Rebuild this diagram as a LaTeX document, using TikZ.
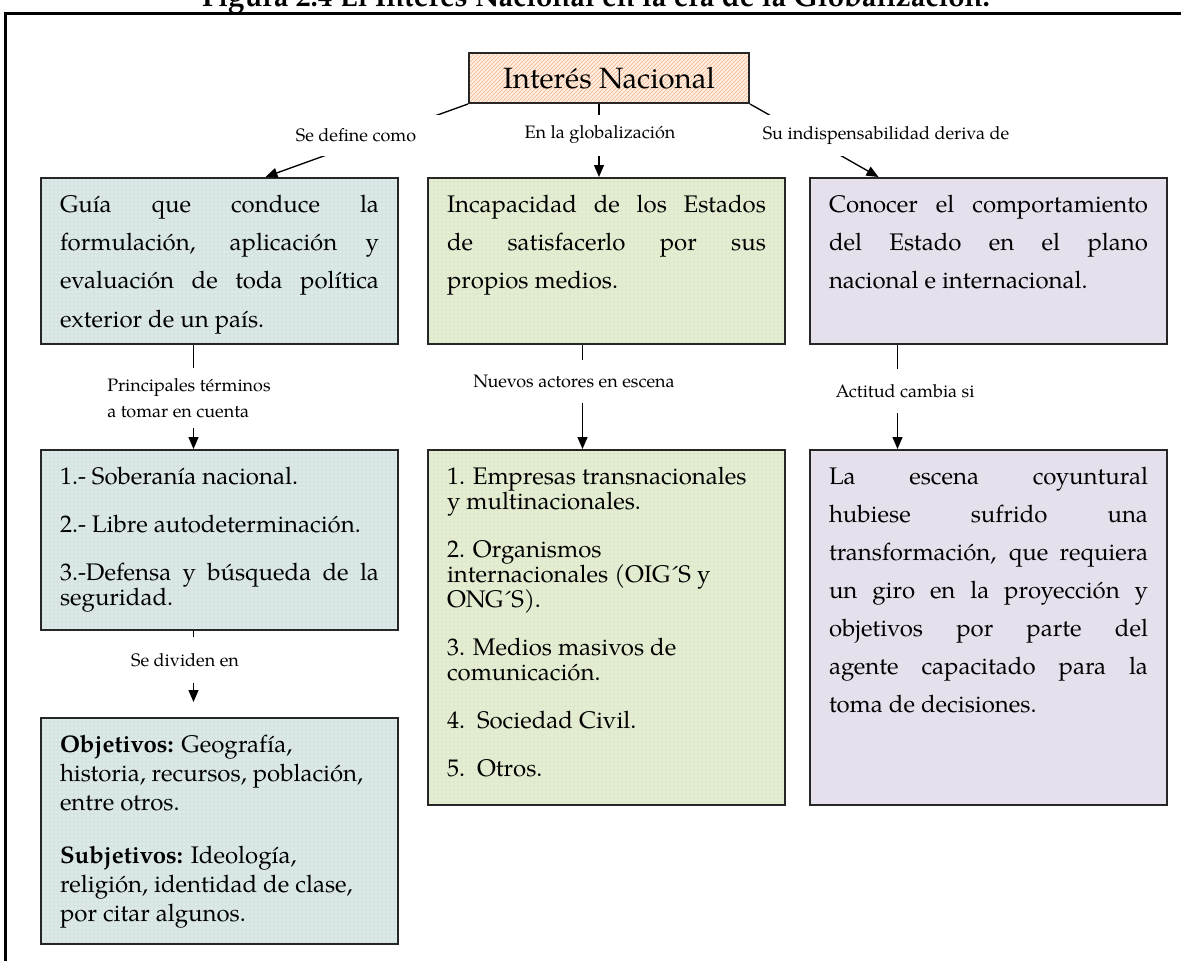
\documentclass[tikz,border=0pt]{standalone}
\usepackage{fontspec}
\setmainfont{TeX Gyre Pagella}
\usepackage{tikz}
\usetikzlibrary{arrows.meta}
\usetikzlibrary{patterns}
\newlength{\pxu}
\setlength{\pxu}{0.75pt}
\definecolor{azulgris}{RGB}{214,228,228}
\definecolor{verdeclaro}{RGB}{224,234,205}
\definecolor{lila}{RGB}{229,224,236}
\definecolor{durazno}{RGB}{254,238,226}
\definecolor{rayas}{RGB}{246,178,136}
\newcommand{\contenido}[3]{\parbox[c][#1\pxu][t]{319\pxu}{\setlength{\parskip}{#2\pxu}#3}}
\tikzset{
	caja/.style={draw=black!85, line width=2\pxu, anchor=north west, inner xsep=19\pxu, inner ysep=17\pxu},
	interl/.style={font=\fontsize{18}{#1}\selectfont},
	flecha/.style={-{Triangle[length=9pt,width=7.5pt]}, line width=1pt},
	etiqueta/.style={fill=white, inner xsep=2\pxu, font=\fontsize{13.5}{20}\selectfont}
}
\begin{document}
\begin{tikzpicture}[x=0.75pt, y=-0.75pt]
	\useasboundingbox (0,0) rectangle (1181,960);
	\node[anchor=base, font=\bfseries\fontsize{22}{26}\selectfont] (titulo) at (596,7) {Figura 2.4 El Interés Nacional en la era de la Globalización.};
	\draw[line width=3\pxu] (5,1000) -- (5,13) -- (1200,13);
	% cabecera
	\node[draw=black!85, line width=2\pxu, anchor=north west, minimum width=280\pxu, minimum height=50\pxu, preaction={fill=durazno}, pattern=north east lines, pattern color=rayas, font=\fontsize{22}{26}\selectfont] (ni) at (468,52) {Interés Nacional};
	% primera fila
	\node[caja, interl=28.7, preaction={fill=azulgris}, pattern=dots, pattern color=white] (guia) at (40,177) {\contenido{132}{0}{Guía que conduce la\linebreak formulación, aplicación y\linebreak evaluación de toda política\linebreak exterior de un país.}};
	\node[caja, interl=28.7, preaction={fill=verdeclaro}, pattern=dots, pattern color=white] (incap) at (427,177) {\contenido{132}{0}{Incapacidad de los Estados\linebreak de satisfacerlo por sus\linebreak propios medios.}};
	\node[caja, interl=28.7, fill=lila] (conocer) at (809,177) {\contenido{132}{0}{Conocer el comportamiento\linebreak del Estado en el plano\linebreak nacional e internacional.}};
	% segunda fila
	\node[caja, interl=18.4, preaction={fill=azulgris}, pattern=dots, pattern color=white] (sober) at (40,449) {\contenido{146}{23.5}{1.- Soberanía nacional.\par 2.- Libre autodeterminación.\par 3.-Defensa y búsqueda de la\linebreak seguridad.}};
	\node[caja, interl=18.75, preaction={fill=verdeclaro}, pattern=dots, pattern color=white] (actores) at (427,449) {\contenido{321}{23}{1. Empresas transnacionales\newline y multinacionales.\par 2. Organismos\newline internacionales (OIG´S y\newline ONG´S).\par 3. Medios masivos de\newline comunicación.\par 4.\enspace Sociedad Civil.\par 5.\enspace Otros.}};
	\node[caja, interl=28.5, fill=lila] (escena) at (809,449) {\contenido{321}{0}{La escena coyuntural\linebreak hubiese sufrido una\linebreak transformación, que requiera\linebreak un giro en la proyección y\linebreak objetivos por parte del\linebreak agente capacitado para la\linebreak toma de decisiones.}};
	% tercera fila
	\node[caja, interl=21.75, preaction={fill=azulgris}, pattern=dots, pattern color=white] (objet) at (40,717) {\contenido{192}{24}{\textbf{Objetivos:} Geografía,\newline historia, recursos, población,\newline entre otros.\par \textbf{Subjetivos:} Ideología,\newline religión, identidad de clase,\newline por citar algunos.}};
	% conectores
	\draw[flecha] (ni.south west) -- ([xshift=46\pxu]guia.north);
	\draw[flecha] ([xshift=-10\pxu]ni.south) -- ([xshift=-10\pxu]ni.south |- incap.north);
	\draw[flecha] (ni.south east) -- ([xshift=-110\pxu]conocer.north);
	\draw[flecha] ([xshift=-26\pxu]guia.south) -- ([xshift=-26\pxu]sober.north);
	\draw[flecha] ([xshift=-24\pxu]incap.south) -- ([xshift=-24\pxu]actores.north);
	\draw[flecha] ([xshift=-91\pxu]conocer.south) -- ([xshift=-91\pxu]escena.north);
	\draw[flecha, shorten >=15\pxu] ([xshift=-26\pxu]sober.south) -- ([xshift=-26\pxu]objet.north);
	% etiquetas
	\node[etiqueta, minimum width=175\pxu, minimum height=41\pxu] (define) at (356,135) {Se define como};
	\node[etiqueta, minimum height=41\pxu] (global) at (600,135) {En la globalización};
	\node[etiqueta, minimum height=41\pxu] (indisp) at (886,135) {Su indispensabilidad deriva de};
	\node[etiqueta, align=left, anchor=west, inner ysep=10\pxu] (terminos) at (105,398) {Principales términos\\a tomar en cuenta};
	\node[etiqueta, minimum height=43\pxu] (nuevos) at (574,381) {Nuevos actores en escena};
	\node[etiqueta, minimum height=44\pxu] (actitud) at (905,391) {Actitud cambia si};
	\node[etiqueta, minimum height=46\pxu] (dividen) at (185,660) {Se dividen en};
\end{tikzpicture}
\end{document}
